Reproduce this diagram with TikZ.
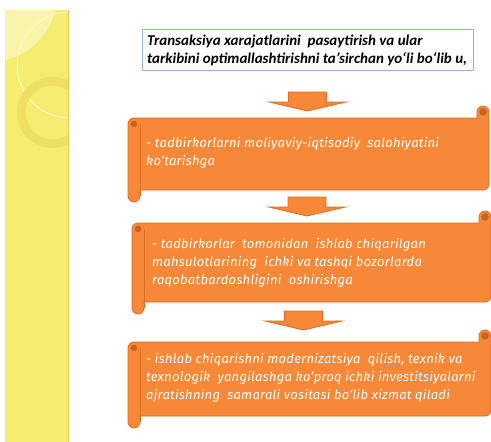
\documentclass[tikz,border=0pt]{standalone}
\usepackage{fontspec}
\setmainfont{Carlito}
\newfontfamily\scrollfont[LetterSpace=2]{Fira Sans}
\usepackage{xcolor}
\usepackage{tikz}
\definecolor{scrollfill}{RGB}{247,136,55}
\definecolor{scrolledge}{RGB}{222,110,36}
\definecolor{rolldark}{RGB}{200,100,32}
\definecolor{panelyellow}{RGB}{244,237,112}
\definecolor{panellight}{RGB}{248,244,168}
\definecolor{ringyellow}{RGB}{237,224,98}
\definecolor{boxblue}{RGB}{141,180,226}

% horizontal scroll: left, right, body top, body bottom
\newcommand{\drawscroll}[4]{%
  \filldraw[scrollshape] ({#1+6},#3) -- ({#2-12},#3) -- ({#2-12},{#3-6})
    arc (180:360:6) -- (#2,{#4-6}) arc (0:90:6) -- ({#1+12},#4)
    -- ({#1+12},{#4+6}) arc (0:180:6) -- (#1,{#3+6}) arc (180:270:6) -- cycle;
  \draw[scrolledge, line width=0.8pt] ({#1+12},{#3+6}) -- ({#1+12},{#4+6});
  \filldraw[rolldark] ({#1+6},{#3+6}) circle (3);
  \filldraw[rolldark] ({#2-6},{#3-6}) circle (3.5);
}
% block arrow pointing down: centre x, top y
\newcommand{\downblock}[2]{%
  \filldraw[scrollshape] ({#1-19},#2) -- ({#1+19},#2) -- ({#1+19},{#2+10})
    -- ({#1+38.5},{#2+10}) -- (#1,{#2+19}) -- ({#1-38.5},{#2+10})
    -- ({#1-19},{#2+10}) -- cycle;
}

\begin{document}
\begin{tikzpicture}[x=1pt, y=-1pt,
    scrollshape/.style={fill=scrollfill, draw=scrolledge, line width=0.8pt},
    scrolltext/.style={anchor=west, align=left, inner sep=0pt, text=white,
      font=\scrollfont\fontsize{13}{18}\selectfont\itshape},
    toptext/.style={anchor=west, align=left, inner sep=0pt, text=black,
      font=\fontsize{15}{18}\selectfont\bfseries\itshape}]
    \useasboundingbox[fill=white] (0,0) rectangle (491,442);

    % basics: yellow side panel
    \fill[panelyellow] (5,10) rectangle (69,442);
    \begin{scope}
      \clip (5,10) rectangle (69,442);
      \fill[panellight] (-10,-5) circle (67);
      \draw[white!70!panelyellow, line width=0.8pt] (70,65) circle (53);
      \fill[ringyellow, even odd rule] (52.5,112.5) circle (35.5) (52.5,112.5) circle (27);
    \end{scope}
    \fill[rolldark!30!panelyellow] (67.5,10) rectangle (69,442);

    % goal box
    \draw[boxblue, line width=0.8pt] (142,29) rectangle (473,70);
    \node[toptext] (goal) at (147,50) {Transaksiya xarajatlarini\ \ pasaytirish va ular\\tarkibini optimallashtirishni ta’sirchan yo‘li bo‘lib u,};

    % scrolls
    \drawscroll{128}{489}{118}{190}
    \drawscroll{132}{491}{223}{302}
    \drawscroll{128}{491}{342}{416}

    % arrows
    \downblock{307.5}{92}
    \downblock{307}{197}
    \downblock{303.5}{311}

    % text
    \node[scrolltext] (potential) at (146,153) {- tadbirkorlarni moliyaviy-iqtisodiy\ \ salohiyatini\\ko‘tarishga};
    \node[scrolltext] (compete) at (152,263) {- tadbirkorlar\ \ tomonidan\ \ ishlab chiqarilgan\\mahsulotlarining\ \ ichki va tashqi bozorlarda\\raqobatbardoshligini\ \ oshirishga};
    \node[scrolltext] (modern) at (146,378) {- ishlab chiqarishni modernizatsiya\ \ qilish, texnik va\\texnologik\ \ yangilashga ko‘proq ichki investitsiyalarni\\ajratishning\ \ samarali vositasi bo‘lib xizmat qiladi};
\end{tikzpicture}
\end{document}
